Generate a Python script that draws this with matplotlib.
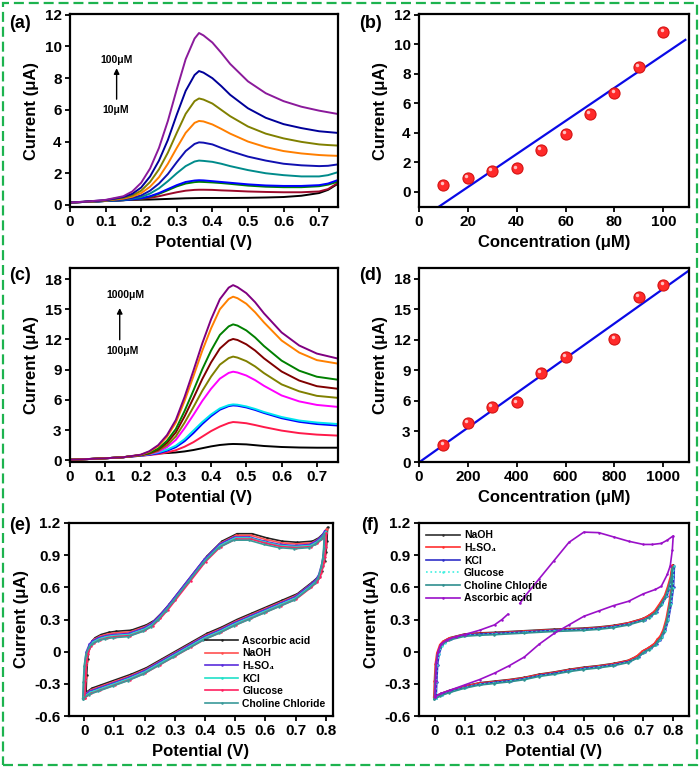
import numpy as np
import matplotlib
matplotlib.use("Agg")
import matplotlib.pyplot as plt
from matplotlib.patches import Rectangle
from matplotlib.ticker import FuncFormatter, MultipleLocator
from matplotlib.transforms import offset_copy

plt.rcParams["font.family"] = ["Liberation Sans", "DejaVu Sans"]
plt.rcParams["font.weight"] = "bold"
plt.rcParams["axes.labelweight"] = "bold"
plt.rcParams["axes.unicode_minus"] = False

W, H = 700, 768

# ---- (a) DPV curves, 10 - 100 uM
A_V = [0, 0.05, 0.1, 0.15, 0.175, 0.2, 0.225, 0.25, 0.275, 0.3, 0.325, 0.35, 0.3625,
       0.375, 0.4, 0.425, 0.45, 0.5, 0.55, 0.6, 0.65, 0.7, 0.725, 0.75]
A_I = [
    [0.15, 0.2, 0.25, 0.3, 0.32, 0.33, 0.34, 0.36, 0.38, 0.4, 0.42, 0.43, 0.435, 0.44, 0.44, 0.44, 0.44, 0.45, 0.47, 0.5, 0.58, 0.75, 0.95, 1.3],
    [0.15, 0.2, 0.25, 0.3, 0.33, 0.38, 0.45, 0.55, 0.68, 0.8, 0.9, 0.95, 0.96, 0.96, 0.95, 0.92, 0.9, 0.85, 0.82, 0.8, 0.8, 0.85, 1.0, 1.35],
    [0.15, 0.2, 0.25, 0.3, 0.35, 0.4, 0.52, 0.7, 0.93, 1.17, 1.35, 1.44, 1.46, 1.45, 1.42, 1.38, 1.33, 1.22, 1.15, 1.12, 1.12, 1.18, 1.28, 1.45],
    [0.15, 0.2, 0.25, 0.3, 0.35, 0.42, 0.55, 0.75, 1.0, 1.25, 1.45, 1.54, 1.56, 1.55, 1.5, 1.45, 1.4, 1.3, 1.23, 1.2, 1.2, 1.25, 1.35, 1.55],
    [0.15, 0.2, 0.25, 0.32, 0.4, 0.5, 0.72, 1.05, 1.5, 2.0, 2.45, 2.74, 2.8, 2.78, 2.72, 2.6, 2.45, 2.2, 2.0, 1.88, 1.8, 1.8, 1.88, 2.05],
    [0.15, 0.2, 0.26, 0.35, 0.45, 0.6, 0.9, 1.35, 1.95, 2.7, 3.4, 3.85, 3.95, 3.93, 3.82, 3.6, 3.4, 3.05, 2.8, 2.6, 2.5, 2.45, 2.47, 2.55],
    [0.15, 0.2, 0.27, 0.4, 0.52, 0.75, 1.15, 1.75, 2.6, 3.6, 4.55, 5.18, 5.3, 5.27, 5.08, 4.8, 4.5, 4.0, 3.65, 3.4, 3.25, 3.15, 3.12, 3.1],
    [0.15, 0.21, 0.28, 0.45, 0.6, 0.9, 1.45, 2.25, 3.3, 4.55, 5.75, 6.55, 6.72, 6.65, 6.4, 6.0, 5.6, 4.95, 4.5, 4.2, 3.98, 3.82, 3.78, 3.75],
    [0.15, 0.22, 0.3, 0.5, 0.7, 1.1, 1.8, 2.8, 4.1, 5.7, 7.2, 8.2, 8.45, 8.35, 8.0, 7.5, 6.95, 6.1, 5.5, 5.1, 4.85, 4.65, 4.6, 4.55],
    [0.15, 0.22, 0.32, 0.55, 0.85, 1.4, 2.3, 3.6, 5.3, 7.3, 9.2, 10.5, 10.85, 10.7, 10.25, 9.6, 8.9, 7.8, 7.05, 6.55, 6.2, 5.95, 5.85, 5.75],
]
A_COLORS = ["#000000", "#9b0a2a", "#008000", "#0000ff", "#008b8b",
            "#1010b0", "#ff7f00", "#808000", "#000099", "#8b1a9b"]

# ---- (b) calibration, low range
B_CONC = [10, 20, 30, 40, 50, 60, 70, 80, 90, 100]
B_CUR = [0.45, 0.95, 1.4, 1.6, 2.85, 3.95, 5.3, 6.7, 8.45, 10.85]

# ---- (c) DPV curves, 100 - 1000 uM
C_V = [0, 0.05, 0.1, 0.15, 0.2, 0.225, 0.25, 0.275, 0.3, 0.325, 0.35, 0.375,
       0.4, 0.425, 0.45, 0.4625, 0.475, 0.5, 0.525, 0.55, 0.6, 0.65, 0.7, 0.76]
C_I = [
    [0.05, 0.12, 0.2, 0.3, 0.5, 0.6, 0.68, 0.72, 0.78, 0.88, 1.02, 1.2, 1.38, 1.52, 1.6, 1.62, 1.61, 1.58, 1.5, 1.42, 1.32, 1.27, 1.25, 1.25],
    [0.05, 0.12, 0.2, 0.3, 0.45, 0.52, 0.62, 0.78, 1.0, 1.35, 1.8, 2.35, 2.9, 3.35, 3.7, 3.8, 3.77, 3.68, 3.5, 3.3, 2.95, 2.7, 2.55, 2.45],
    [0.05, 0.12, 0.2, 0.3, 0.45, 0.55, 0.7, 0.95, 1.3, 1.9, 2.7, 3.6, 4.38, 5.02, 5.38, 5.45, 5.42, 5.25, 5.0, 4.7, 4.18, 3.82, 3.6, 3.45],
    [0.05, 0.12, 0.2, 0.3, 0.48, 0.6, 0.78, 1.05, 1.45, 2.1, 2.95, 3.8, 4.55, 5.15, 5.48, 5.55, 5.52, 5.35, 5.1, 4.8, 4.3, 3.95, 3.75, 3.6],
    [0.05, 0.12, 0.2, 0.3, 0.5, 0.62, 0.85, 1.3, 2.02, 3.19, 4.51, 5.89, 7.1, 8.11, 8.68, 8.8, 8.72, 8.42, 7.96, 7.4, 6.44, 5.85, 5.5, 5.3],
    [0.05, 0.12, 0.2, 0.3, 0.5, 0.65, 0.95, 1.5, 2.37, 3.74, 5.28, 6.89, 8.31, 9.5, 10.15, 10.3, 10.2, 9.85, 9.32, 8.66, 7.54, 6.85, 6.4, 6.2],
    [0.05, 0.12, 0.2, 0.3, 0.5, 0.7, 1.05, 1.74, 2.77, 4.37, 6.18, 8.06, 9.72, 11.1, 11.88, 12.05, 11.95, 11.52, 10.9, 10.13, 8.82, 7.92, 7.36, 7.1],
    [0.05, 0.12, 0.2, 0.3, 0.52, 0.75, 1.16, 1.94, 3.1, 4.9, 6.93, 9.03, 10.9, 12.45, 13.3, 13.5, 13.38, 12.9, 12.2, 11.35, 9.9, 8.9, 8.3, 8.0],
    [0.05, 0.12, 0.2, 0.3, 0.53, 0.85, 1.4, 2.34, 3.74, 5.9, 8.34, 10.87, 13.1, 15.0, 16.02, 16.25, 16.1, 15.55, 14.7, 13.7, 11.9, 10.7, 9.95, 9.6],
    [0.05, 0.12, 0.2, 0.3, 0.55, 0.9, 1.5, 2.5, 4.0, 6.3, 8.9, 11.6, 14.0, 16.0, 17.15, 17.4, 17.2, 16.6, 15.7, 14.6, 12.7, 11.4, 10.6, 10.1],
]
C_COLORS = ["#000000", "#ff1a4a", "#0000ff", "#00e5ee", "#ff00ff",
            "#808000", "#800000", "#008000", "#ff8000", "#800080"]

# ---- (d) calibration, high range
D_CONC = [100, 200, 300, 400, 500, 600, 800, 900, 1000]
D_CUR = [1.7, 3.8, 5.4, 5.85, 8.75, 10.3, 12.05, 16.25, 17.4]

# ---- (e) CV, interferents added
E_V = [0, 0.002, 0.005, 0.01, 0.02, 0.03, 0.05, 0.075, 0.1, 0.15, 0.2, 0.225, 0.25, 0.275, 0.3,
       0.35, 0.4, 0.45, 0.5, 0.55, 0.6, 0.65, 0.7, 0.75, 0.77, 0.79, 0.8,
       0.798, 0.795, 0.79, 0.78, 0.77, 0.75, 0.7, 0.65, 0.6, 0.55, 0.5, 0.45,
       0.4, 0.35, 0.3, 0.25, 0.2, 0.15, 0.1, 0.05, 0.02, 0]
E_I = [-0.41, -0.25, -0.1, 0.0, 0.07, 0.1, 0.13, 0.15, 0.16, 0.17, 0.22, 0.26, 0.33, 0.41, 0.5,
       0.68, 0.86, 1.0, 1.07, 1.07, 1.03, 1.0, 0.99, 1.0, 1.03, 1.08, 1.13,
       1.0, 0.9, 0.82, 0.72, 0.67, 0.62, 0.51, 0.45, 0.39, 0.33, 0.27, 0.2,
       0.14, 0.06, -0.02, -0.1, -0.18, -0.24, -0.29, -0.34, -0.37, -0.41]
E_LABELS = ["Ascorbic acid", "NaOH", "H₂SO₄", "KCl", "Glucose", "Choline Chloride"]
E_COLORS = ["#202020", "#ff5050", "#5a2ddc", "#20e0c8", "#ff2060", "#3a9a9a"]
E_SHIFT_V = [0.006, 0.003, -0.003, 0.0, 0.002, -0.005]
E_SHIFT_I = [0.03, 0.015, 0.0, -0.01, -0.02, -0.03]

# ---- (f) CV, individual solutions
F_V = [0, 0.002, 0.005, 0.01, 0.02, 0.03, 0.05, 0.1, 0.15, 0.2, 0.3, 0.4, 0.5,
       0.55, 0.6, 0.65, 0.7, 0.72, 0.74, 0.76, 0.775, 0.785, 0.795, 0.8,
       0.797, 0.79, 0.78, 0.77, 0.76, 0.75, 0.74, 0.72, 0.7, 0.68, 0.65, 0.6,
       0.55, 0.5, 0.45, 0.4, 0.35, 0.3, 0.25, 0.2, 0.15, 0.1, 0.05, 0.02, 0]
F_I = [-0.43, -0.28, -0.12, -0.02, 0.06, 0.09, 0.12, 0.155, 0.165, 0.17, 0.185, 0.2, 0.21,
       0.22, 0.235, 0.26, 0.3, 0.33, 0.37, 0.45, 0.52, 0.6, 0.7, 0.8,
       0.6, 0.45, 0.3, 0.2, 0.14, 0.11, 0.07, 0.03, 0.0, -0.05, -0.09, -0.12,
       -0.14, -0.155, -0.175, -0.2, -0.22, -0.25, -0.27, -0.285, -0.3, -0.33, -0.37, -0.4, -0.43]
F_LABELS = ["NaOH", "H₂SO₄", "KCl", "Glucose", "Choline Chloride"]
F_COLORS = ["#303030", "#ff3030", "#3030c8", "#40f0e0", "#2f8f8f"]
F_STYLES = ["-", "-", "-", ":", "-"]
F_SHIFT_V = [0.0, -0.004, 0.004, 0.002, -0.002]
F_SHIFT_I = [0.01, 0.005, 0.0, -0.005, -0.012]
F_AA_V = [0, 0.002, 0.005, 0.01, 0.02, 0.04, 0.07, 0.1, 0.15, 0.2, 0.225, 0.245, np.nan,
          0.285, 0.3, 0.35, 0.4, 0.45, 0.5, 0.55, 0.6, 0.65, 0.7, 0.73, 0.76, 0.78, 0.8,
          0.797, 0.79, 0.78, 0.76, 0.74, 0.7, 0.65, 0.6, 0.55, 0.5, 0.45, 0.4, 0.35,
          0.3, 0.25, 0.2, 0.15, 0.1, 0.05, 0.02, 0]
F_AA_I = [-0.42, -0.27, -0.1, 0.0, 0.07, 0.11, 0.14, 0.16, 0.2, 0.25, 0.3, 0.35, np.nan,
          0.45, 0.51, 0.68, 0.85, 1.02, 1.115, 1.11, 1.07, 1.03, 1.0, 1.0, 1.01, 1.04, 1.08,
          0.95, 0.8, 0.72, 0.61, 0.58, 0.54, 0.47, 0.43, 0.38, 0.33, 0.25, 0.17, 0.07,
          -0.05, -0.13, -0.2, -0.26, -0.31, -0.36, -0.39, -0.42]
F_AA_COLOR = "#9a10c8"

fmt = FuncFormatter(lambda v, p: "%g" % round(v, 3))


def make_ax(fig, l, t, r, b):
    ax = fig.add_axes([l / W, 1 - b / H, (r - l) / W, (b - t) / H])
    for s in ax.spines.values():
        s.set_linewidth(1.6)
    ax.tick_params(direction="out", length=3.5, width=1.3, labelsize=11, pad=2.5)
    ax.xaxis.set_major_formatter(fmt)
    ax.yaxis.set_major_formatter(fmt)
    return ax


def spheres(ax, x, y):
    ax.plot(x, y, "o", ms=8, mfc="#ff2a2a", mec="#d41414", mew=0.8, zorder=3)
    hl = offset_copy(ax.transData, fig=ax.figure, x=-1.3, y=1.3, units="points")
    ax.plot(x, y, "o", ms=2.5, mfc="#ffc0c0", mec="none", transform=hl, zorder=4)


fig = plt.figure(figsize=(W / 100, H / 100), dpi=100)

# (a)
ax = make_ax(fig, 70, 14, 338, 207)
for cur, col in zip(A_I, A_COLORS):
    ax.plot(A_V, cur, color=col, lw=1.4, solid_joinstyle="round")
ax.set_xlim(0, 0.753)
ax.set_ylim(-0.13, 12.05)
ax.xaxis.set_major_locator(MultipleLocator(0.1))
ax.yaxis.set_major_locator(MultipleLocator(2))
ax.annotate("", xy=(0.131, 8.8), xytext=(0.131, 6.5),
            arrowprops=dict(arrowstyle="-|>", color="k", lw=1, mutation_scale=8))
ax.text(0.132, 9.15, "100μM", ha="center", va="center", fontsize=7.5)
ax.text(0.127, 6.0, "10μM", ha="center", va="center", fontsize=7.5)
ax.set_xlabel("Potential (V)", fontsize=12)
ax.set_ylabel("Current (μA)", fontsize=12)

# (b)
ax = make_ax(fig, 419, 14, 689, 207)
fit = np.polyfit(B_CONC, B_CUR, 1)
xs = np.array([0, 109])
ax.plot(xs, np.polyval(fit, xs), color="#0a0ae6", lw=1.6, zorder=2)
spheres(ax, B_CONC, B_CUR)
ax.set_xlim(0, 110.5)
ax.set_ylim(-1.02, 12.05)
ax.xaxis.set_major_locator(MultipleLocator(20))
ax.yaxis.set_major_locator(MultipleLocator(2))
ax.set_xlabel("Concentration (μM)", fontsize=12)
ax.set_ylabel("Current (μA)", fontsize=12)

# (c)
ax = make_ax(fig, 70, 268, 338, 462)
for cur, col in zip(C_I, C_COLORS):
    ax.plot(C_V, cur, color=col, lw=1.4, solid_joinstyle="round")
ax.set_xlim(0, 0.76)
ax.set_ylim(-0.17, 19.1)
ax.xaxis.set_major_locator(MultipleLocator(0.1))
ax.yaxis.set_major_locator(MultipleLocator(3))
ax.annotate("", xy=(0.141, 15.4), xytext=(0.141, 11.7),
            arrowprops=dict(arrowstyle="-|>", color="k", lw=1, mutation_scale=8))
ax.text(0.158, 16.4, "1000μM", ha="center", va="center", fontsize=7.5)
ax.text(0.149, 10.9, "100μM", ha="center", va="center", fontsize=7.5)
ax.set_xlabel("Potential (V)", fontsize=12)
ax.set_ylabel("Current (μA)", fontsize=12)

# (d)
ax = make_ax(fig, 419, 268, 689, 462)
fit = np.polyfit(D_CONC, D_CUR, 1)
xs = np.array([0, 1100])
ax.plot(xs, np.polyval(fit, xs), color="#0a0ae6", lw=1.6, zorder=2)
spheres(ax, D_CONC, D_CUR)
ax.set_xlim(0, 1105)
ax.set_ylim(0, 19.05)
ax.xaxis.set_major_locator(MultipleLocator(200))
ax.yaxis.set_major_locator(MultipleLocator(3))
ax.set_xlabel("Concentration (μM)", fontsize=12)
ax.set_ylabel("Current (μA)", fontsize=12)

# (e)
ax = make_ax(fig, 69, 523, 333, 716)
ev = np.array(E_V)
ei = np.array(E_I)
for lab, col, dv, di in zip(E_LABELS, E_COLORS, E_SHIFT_V, E_SHIFT_I):
    ax.plot(ev + dv, ei + di, color=col, lw=1.2, marker="o", ms=0.8, label=lab)
ax.set_xlim(-0.0505, 0.824)
ax.set_ylim(-0.6, 1.2)
ax.xaxis.set_major_locator(MultipleLocator(0.1))
ax.yaxis.set_major_locator(MultipleLocator(0.3))
ax.legend(loc="lower right", frameon=False, fontsize=7.5, handlelength=3.2,
          labelspacing=0.25, handletextpad=0.4, borderaxespad=0.3)
ax.set_xlabel("Potential (V)", fontsize=12)
ax.set_ylabel("Current (μA)", fontsize=12)

# (f)
ax = make_ax(fig, 419, 523, 689, 716)
fv = np.array(F_V)
fi = np.array(F_I)
for lab, col, ls, dv, di in zip(F_LABELS, F_COLORS, F_STYLES, F_SHIFT_V, F_SHIFT_I):
    ax.plot(fv + dv, fi + di, color=col, lw=1.2, ls=ls, marker="o", ms=0.8, label=lab)
ax.plot(F_AA_V, F_AA_I, color=F_AA_COLOR, lw=1.2, marker="o", ms=0.8, label="Ascorbic acid")
ax.set_xlim(-0.0537, 0.853)
ax.set_ylim(-0.6, 1.2)
ax.xaxis.set_major_locator(MultipleLocator(0.1))
ax.yaxis.set_major_locator(MultipleLocator(0.3))
ax.legend(loc="upper left", frameon=False, fontsize=7.5, handlelength=3.2,
          labelspacing=0.25, handletextpad=0.4, borderaxespad=0.3)
ax.set_xlabel("Potential (V)", fontsize=12)
ax.set_ylabel("Current (μA)", fontsize=12)

# panel letters
for lab, px, py in [("(a)", 20, 23), ("(b)", 370, 23), ("(c)", 20, 275),
                    ("(d)", 370, 275), ("(e)", 20, 525), ("(f)", 370, 525)]:
    fig.text(px / W, 1 - py / H, lab, ha="center", va="center", fontsize=13)

# green dashed frame
frame = Rectangle((3 / W, 3 / H), 694 / W, 762 / H, transform=fig.transFigure,
                  fill=False, edgecolor="#1db34f", lw=1.6, ls=(0, (4.5, 2.2)))
fig.patches.append(frame)

fig.savefig("out.png", dpi=100)
